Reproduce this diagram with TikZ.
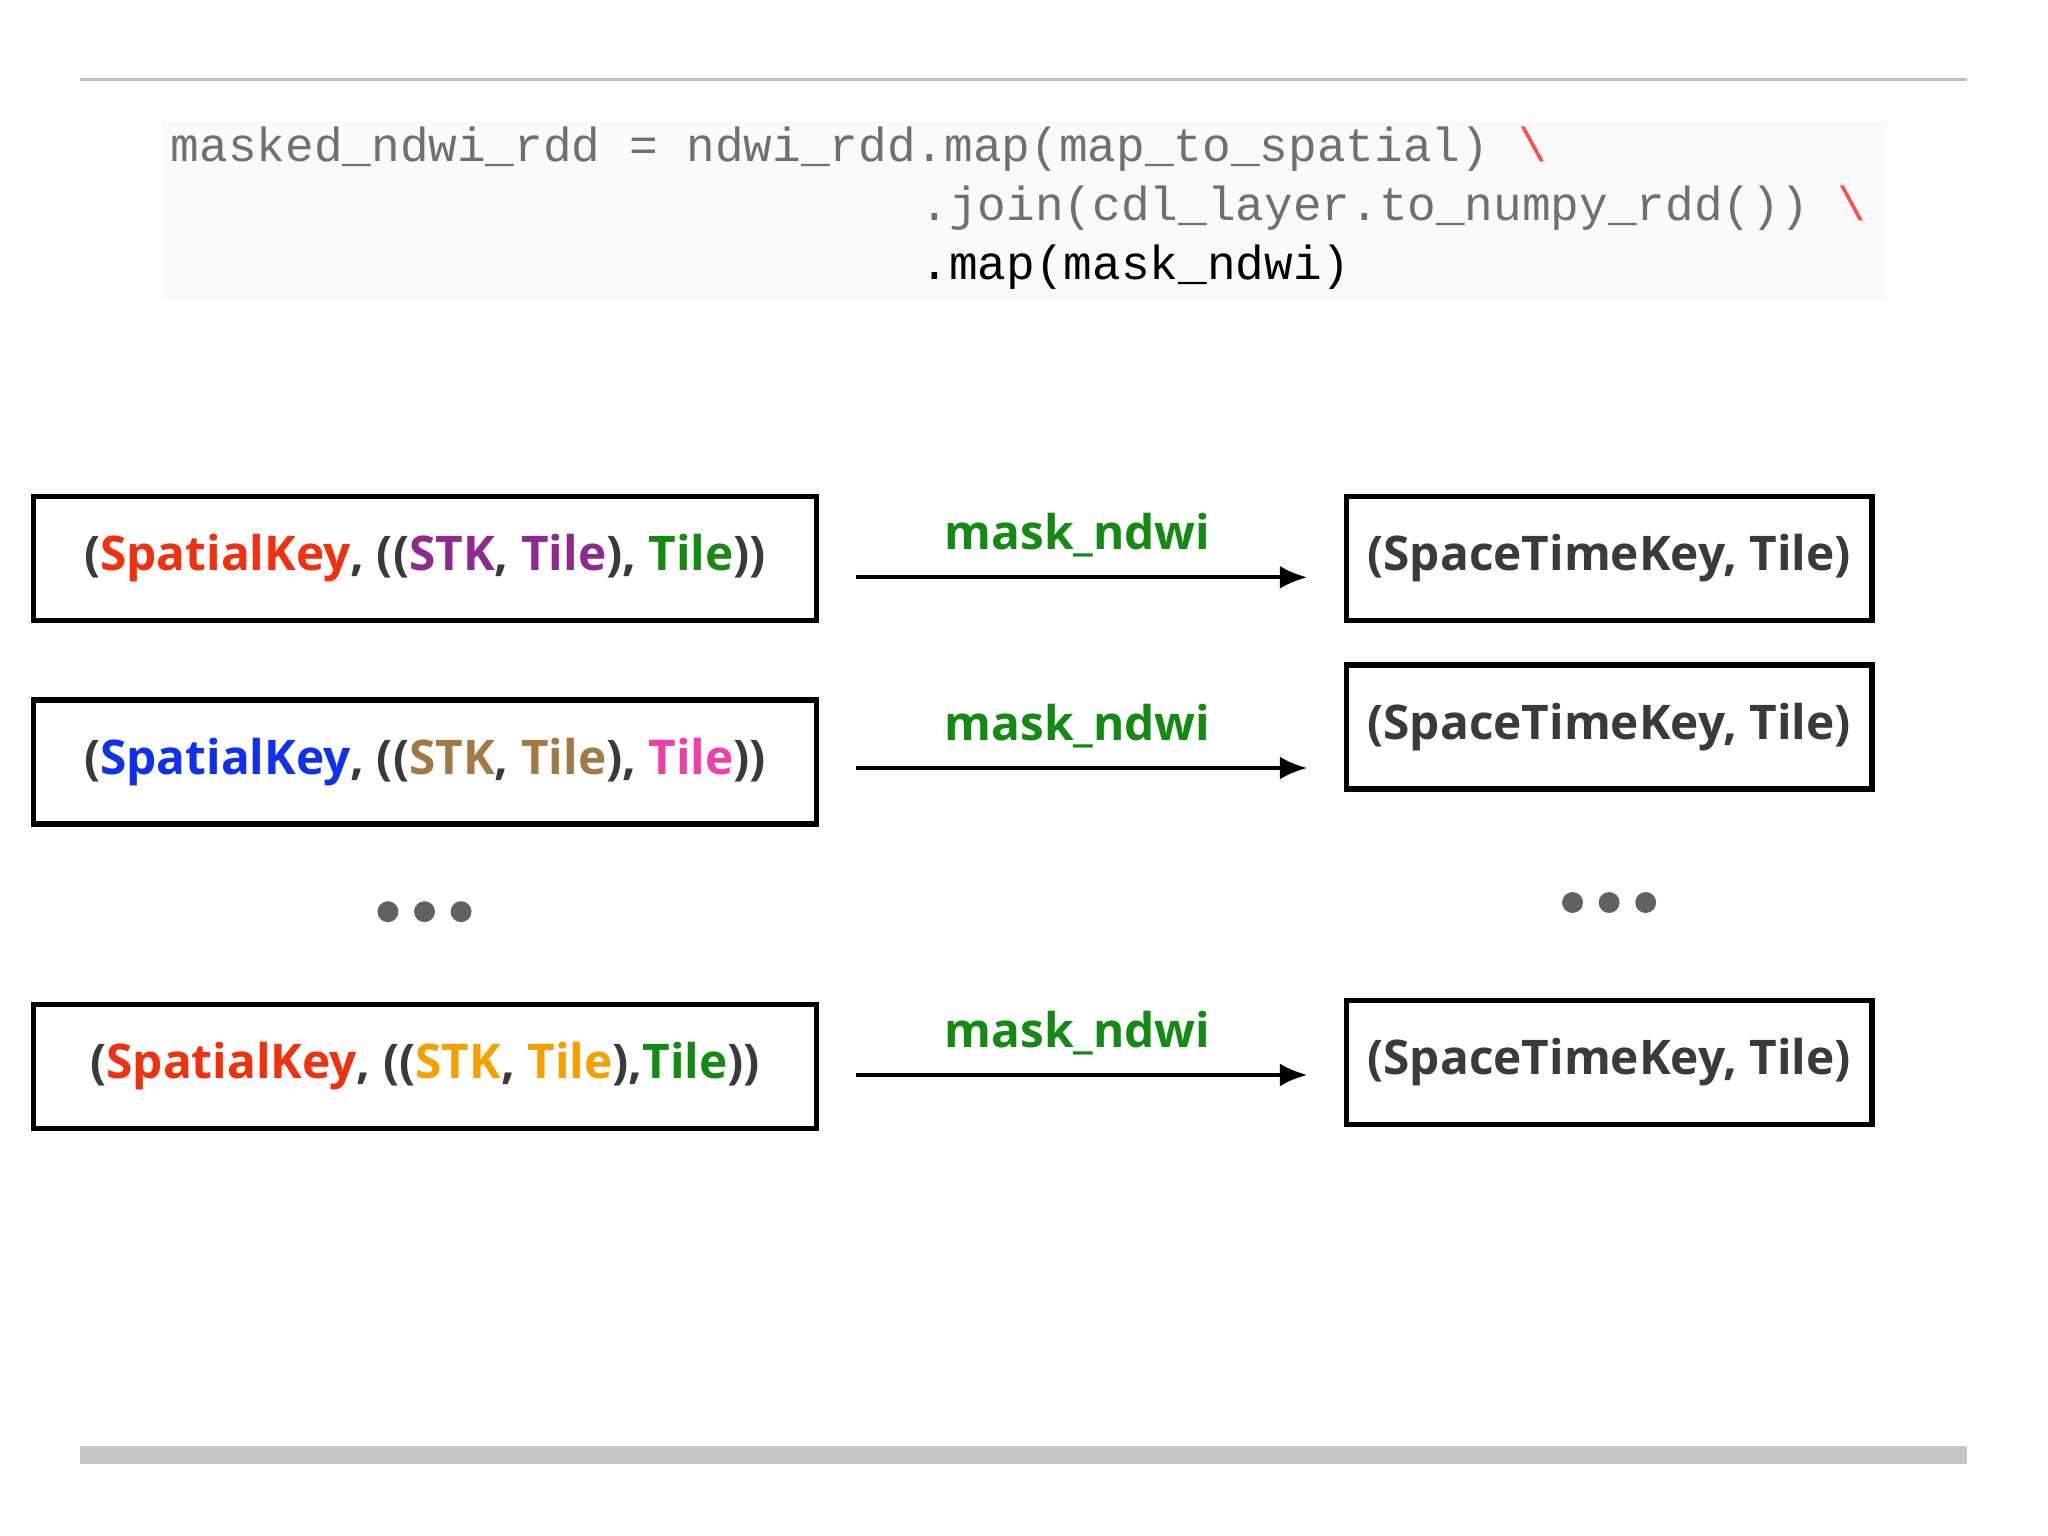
\documentclass[tikz,border=0pt]{standalone}
\usepackage{fontspec}
\setmainfont{Open Sans}
\newfontfamily\codefont{Liberation Mono}
\usetikzlibrary{arrows.meta}
\definecolor{cred}{HTML}{F0300F}
\definecolor{cpur}{HTML}{8E2A8E}
\definecolor{cgrn}{HTML}{148A14}
\definecolor{cblu}{HTML}{1030F0}
\definecolor{cbrn}{HTML}{A07A45}
\definecolor{cpnk}{HTML}{F040A8}
\definecolor{corg}{HTML}{F5A000}
\definecolor{ctxt}{HTML}{3A3A3A}
\definecolor{ccode}{HTML}{707070}
\begin{document}
\begin{tikzpicture}[x=0.01cm,y=-0.01cm,
  box/.style={draw=black,line width=1.2pt,inner sep=0pt,font=\fontsize{10.4}{12}\selectfont\bfseries,text=ctxt},
  lbl/.style={font=\fontsize{10.4}{12}\selectfont\bfseries,text=cgrn},
  arr/.style={-{Latex[length=6pt,width=5pt]},line width=0.9pt},
  dot/.style={circle,fill=ctxt!80,inner sep=0pt,minimum size=0.16cm},
  code/.style={font=\codefont\fontsize{10.4}{12}\selectfont,text=ccode,anchor=base west,inner sep=0pt}]
\useasboundingbox (0,0) rectangle (1568,1176);
\fill[white] (0,0) rectangle (1568,1176);
\draw[gray!50,line width=0.6pt] (61,61) -- (1506,61);
\draw[gray!45,line width=4pt] (61,1114) -- (1506,1114);
\fill[gray!4] (125,93) rectangle (1445,230);
\node[code] (c1) at (130,124) {masked\_ndwi\_rdd = ndwi\_rdd.map(map\_to\_spatial) \textcolor{red!70}{\textbackslash}};
\node[code] (c2) at (704,169) {.join(cdl\_layer.to\_numpy\_rdd()) \textcolor{red!70}{\textbackslash}};
\node[code,text=black] (c3) at (704,214) {.map(mask\_ndwi)};
% left boxes
\node[box,minimum width=5.99cm,minimum height=0.95cm] (l1) at (325.5,427.5) {(\textcolor{cred}{SpatialKey}, ((\textcolor{cpur}{STK}, \textcolor{cpur}{Tile}), \textcolor{cgrn}{Tile}))};
\node[box,minimum width=5.99cm,minimum height=0.95cm] (l2) at (325.5,583.5) {(\textcolor{cblu}{SpatialKey}, ((\textcolor{cbrn}{STK}, \textcolor{cbrn}{Tile}), \textcolor{cpnk}{Tile}))};
\node[box,minimum width=5.99cm,minimum height=0.95cm] (l3) at (325.5,816.5) {(\textcolor{cred}{SpatialKey}, ((\textcolor{corg}{STK}, \textcolor{corg}{Tile}),\textcolor{cgrn}{Tile}))};
% right boxes
\node[box,minimum width=4.02cm,minimum height=0.95cm] (r1) at (1232,427.5) {(SpaceTimeKey, Tile)};
\node[box,minimum width=4.02cm,minimum height=0.95cm] (r2) at (1232,556.5) {(SpaceTimeKey, Tile)};
\node[box,minimum width=4.02cm,minimum height=0.95cm] (r3) at (1232,813.5) {(SpaceTimeKey, Tile)};
% arrows
\coordinate (a1s) at (655,442); \coordinate (a1e) at (1001,442);
\coordinate (a2s) at (655,588); \coordinate (a2e) at (1001,588);
\coordinate (a3s) at (655,823); \coordinate (a3e) at (1001,823);
\draw[arr] (a1s) -- (a1e);
\draw[arr] (a2s) -- (a2e);
\draw[arr] (a3s) -- (a3e);
\node[lbl] (m1) at (825,410) {mask\_ndwi};
\node[lbl] (m2) at (825,556) {mask\_ndwi};
\node[lbl] (m3) at (825,791) {mask\_ndwi};
% dots
\node[dot] (d1) at (297,698) {}; \node[dot] (d2) at (325,698) {}; \node[dot] (d3) at (353,698) {};
\node[dot] (d4) at (1204,691) {}; \node[dot] (d5) at (1232,691) {}; \node[dot] (d6) at (1260,691) {};
\end{tikzpicture}
\end{document}
